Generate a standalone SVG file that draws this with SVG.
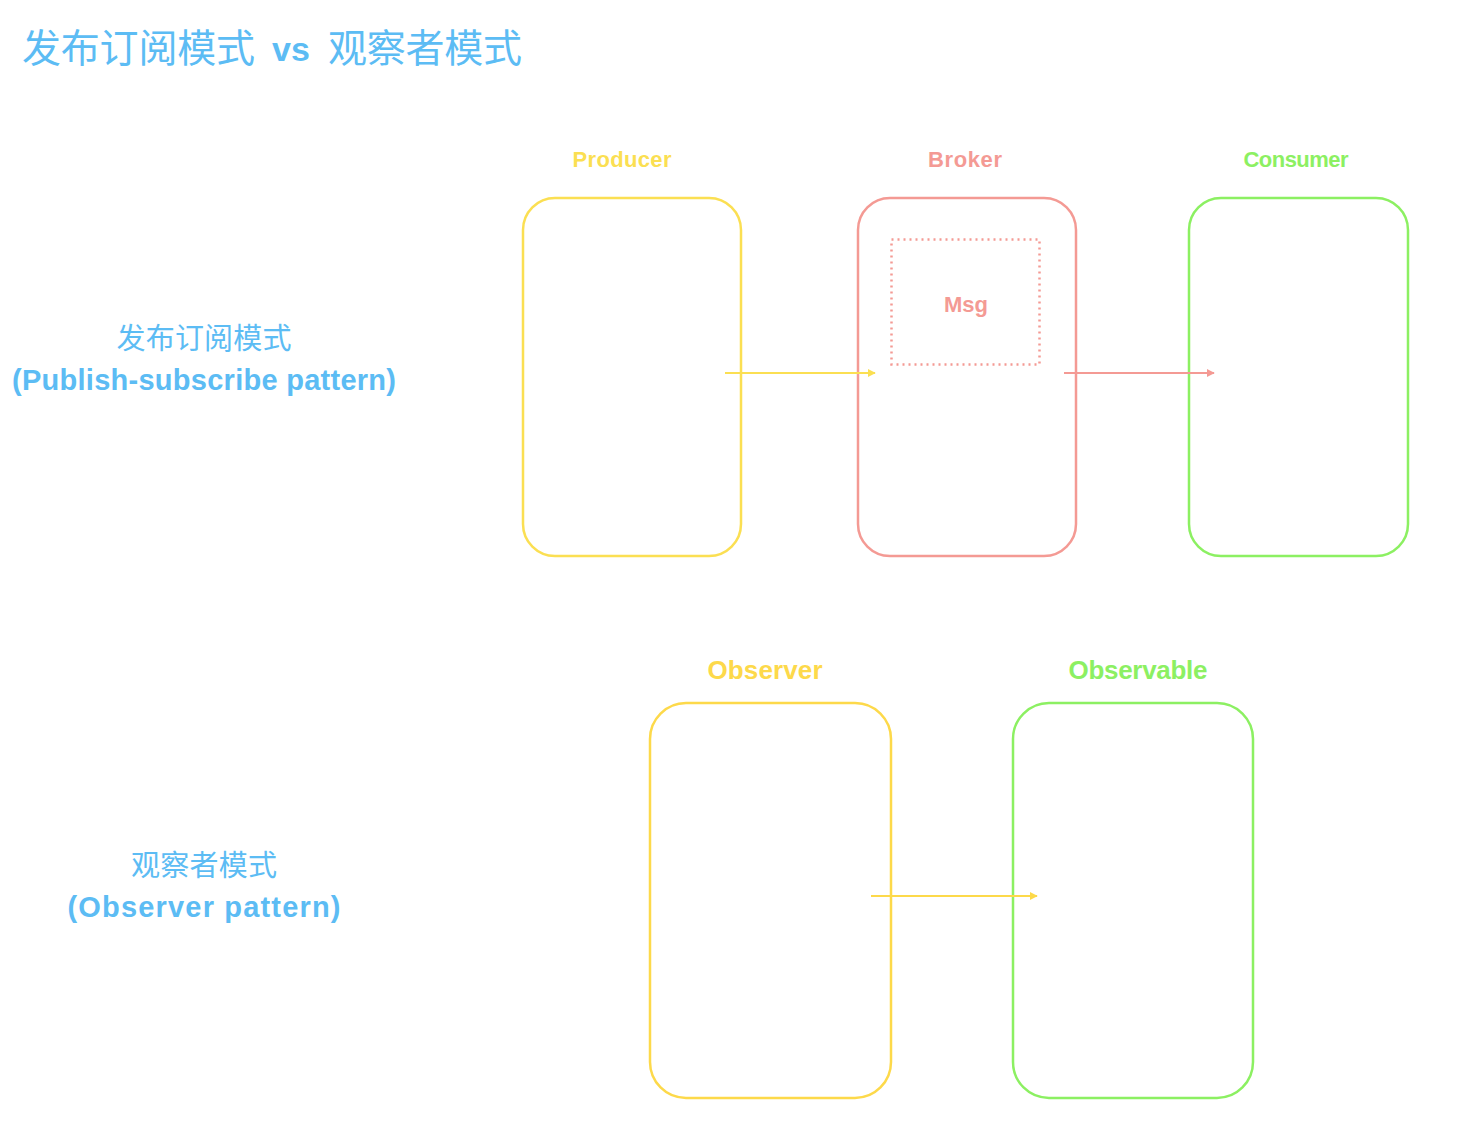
<svg xmlns="http://www.w3.org/2000/svg" width="1480" height="1124" viewBox="0 0 1480 1124">
<style>
.title{font-family:"Noto Sans CJK SC",sans-serif;font-size:39px;fill:#5cbcf4;}
.vs{font-family:"Liberation Sans",sans-serif;font-weight:bold;font-size:34px;fill:#5cbcf4;}
.side{font-family:"Liberation Sans","Noto Sans CJK SC",sans-serif;font-size:29px;fill:#5cbcf4;text-anchor:middle;}
.en{font-weight:bold;font-size:29px;}
.lab{font-family:"Liberation Sans",sans-serif;font-weight:bold;font-size:22px;text-anchor:middle;}
.big{font-size:26px;}
.box{fill:none;stroke-width:2.5;}
.y{stroke:#fbdf52;} .r{stroke:#f49a94;} .g{stroke:#8cf062;} .o{stroke:#fdd94a;}
</style>
<defs>
<marker id="ay" viewBox="0 0 10 10" refX="9" refY="5" markerWidth="8" markerHeight="8" markerUnits="userSpaceOnUse" orient="auto"><path d="M0,0 L10,5 L0,10 z" fill="#fbdf52"/></marker>
<marker id="ar" viewBox="0 0 10 10" refX="9" refY="5" markerWidth="8" markerHeight="8" markerUnits="userSpaceOnUse" orient="auto"><path d="M0,0 L10,5 L0,10 z" fill="#f49a94"/></marker>
<marker id="ao" viewBox="0 0 10 10" refX="9" refY="5" markerWidth="8" markerHeight="8" markerUnits="userSpaceOnUse" orient="auto"><path d="M0,0 L10,5 L0,10 z" fill="#fdd94a"/></marker>
</defs>
<rect width="1480" height="1124" fill="#ffffff"/>
<g id="title">
<text x="22" y="62" class="title" textLength="233">发布订阅模式</text>
<text x="272" y="61" class="vs" textLength="38">vs</text>
<text x="328" y="62" class="title" textLength="194">观察者模式</text>
</g>
<g id="label-pubsub">
<text x="204" y="349" class="side" textLength="175">发布订阅模式</text>
<text x="204" y="390" class="side en" textLength="384">(Publish-subscribe pattern)</text>
</g>
<g id="label-observer">
<text x="204" y="876" class="side" textLength="146">观察者模式</text>
<text x="204" y="917" class="side en" textLength="273">(Observer pattern)</text>
</g>
<g id="producer">
<text x="622" y="167" class="lab" fill="#fbdf52" textLength="99">Producer</text>
<rect x="523" y="198" width="218" height="358" rx="32" class="box y"/>
</g>
<g id="broker">
<text x="965" y="167" class="lab" fill="#f49a94" textLength="74">Broker</text>
<rect x="858" y="198" width="218" height="358" rx="32" class="box r"/>
</g>
<g id="msg">
<rect x="891.5" y="239.5" width="148" height="125" fill="none" stroke="#f49a94" stroke-width="2.5" stroke-dasharray="2 4"/>
<text x="966" y="312" class="lab" fill="#f49a94" textLength="44">Msg</text>
</g>
<g id="consumer">
<text x="1296" y="167" class="lab" fill="#8cf062" textLength="105">Consumer</text>
<rect x="1189" y="198" width="219" height="358" rx="32" class="box g"/>
</g>
<g id="observer">
<text x="765" y="679" class="lab big" fill="#fdd94a" textLength="115">Observer</text>
<rect x="650" y="703" width="241" height="395" rx="36" class="box o"/>
</g>
<g id="observable">
<text x="1138" y="679" class="lab big" fill="#8cf062" textLength="139">Observable</text>
<rect x="1013" y="703" width="240" height="395" rx="36" class="box g"/>
</g>
<g id="connectors">
<line x1="725" y1="373" x2="875" y2="373" stroke="#fbdf52" stroke-width="2" marker-end="url(#ay)"/>
<line x1="1064" y1="373" x2="1214" y2="373" stroke="#f49a94" stroke-width="2" marker-end="url(#ar)"/>
<line x1="871" y1="896" x2="1037" y2="896" stroke="#fdd94a" stroke-width="2" marker-end="url(#ao)"/>
</g>
</svg>
